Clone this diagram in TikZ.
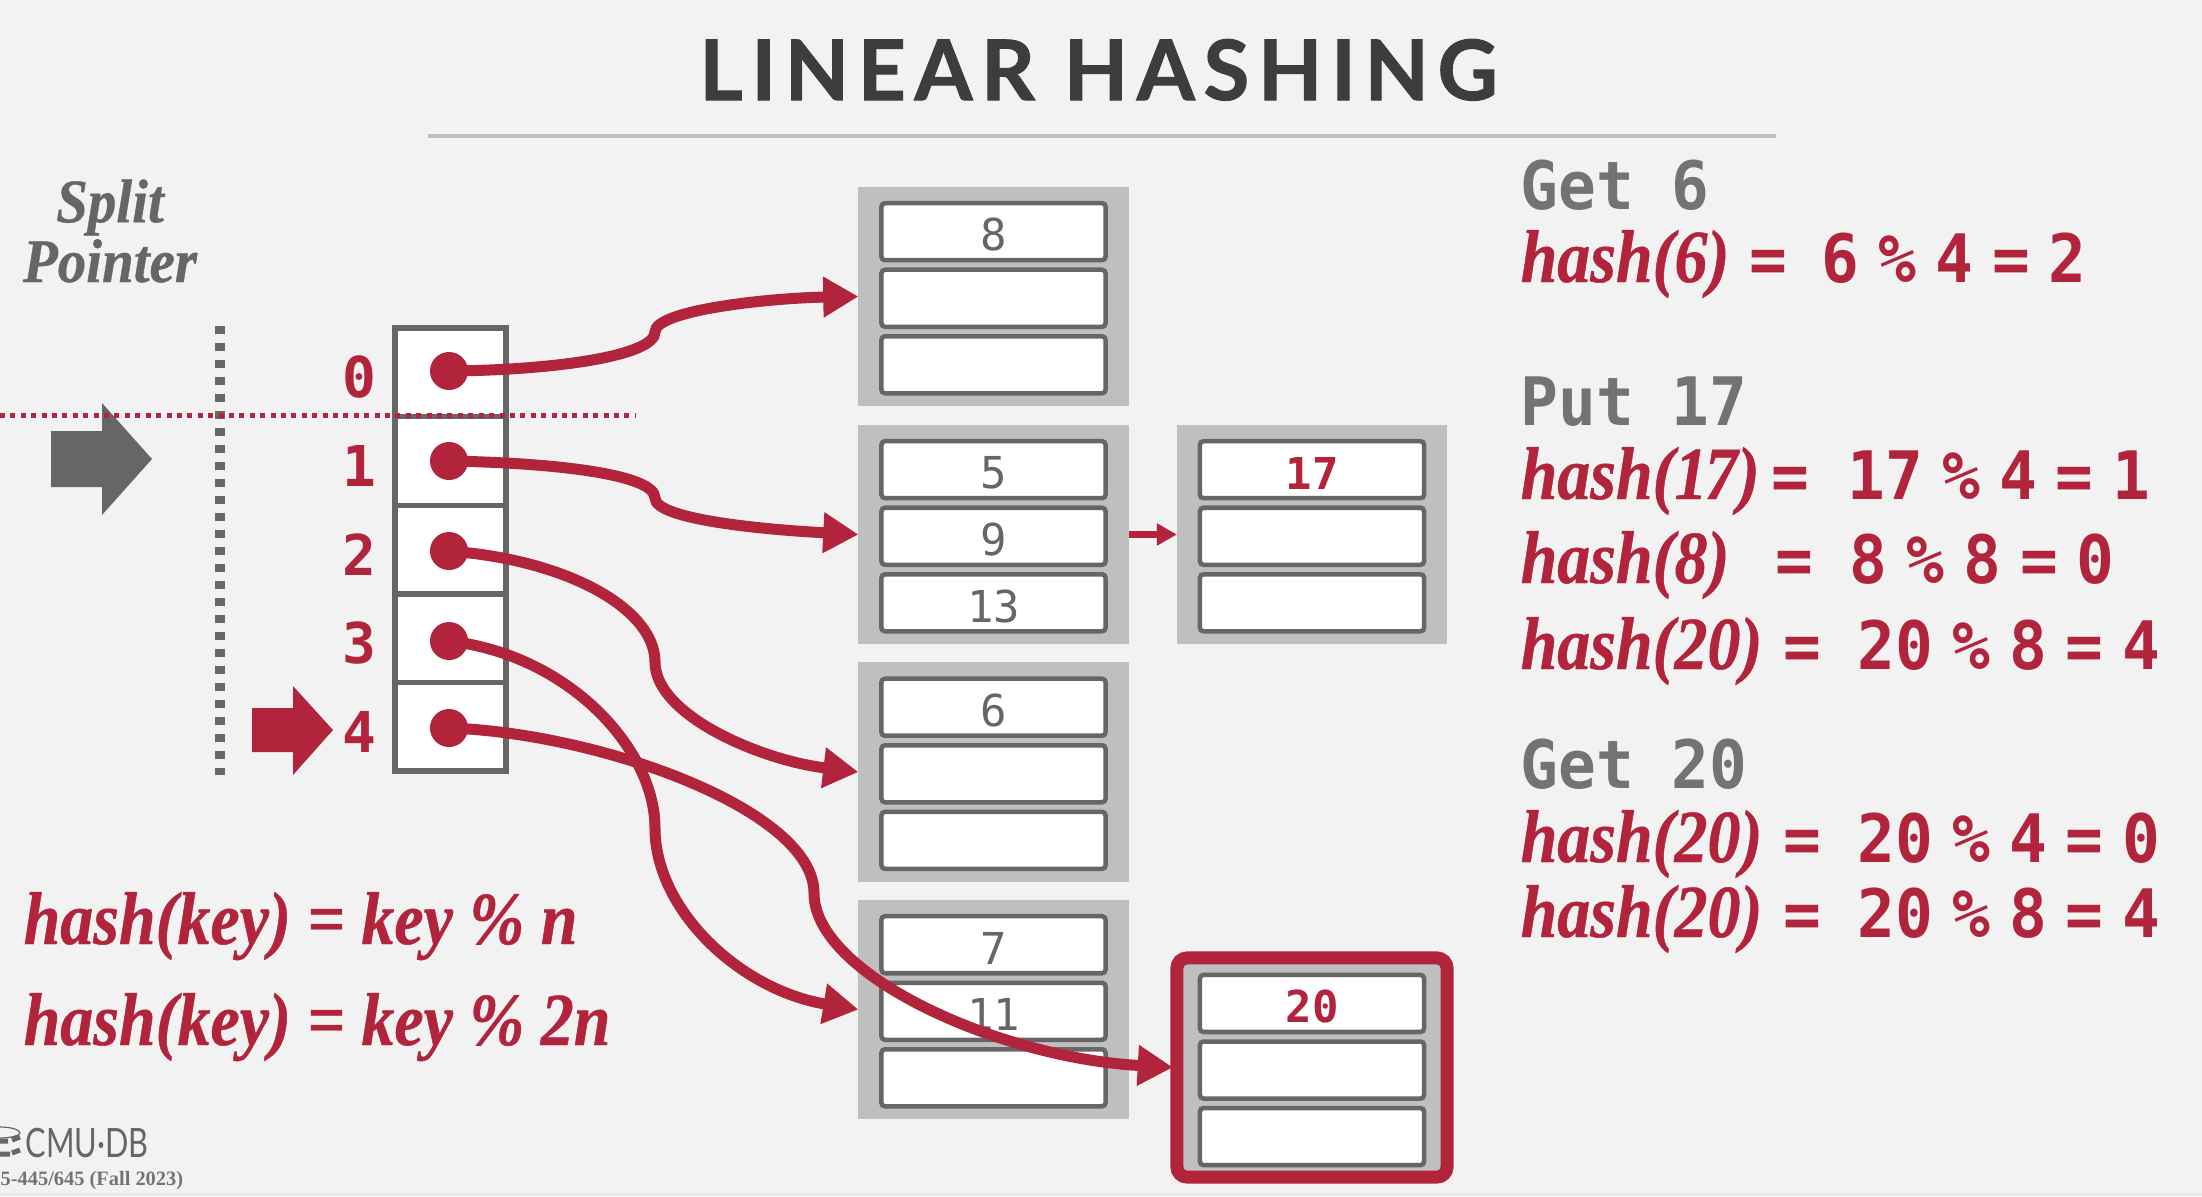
\documentclass[tikz,border=0pt]{standalone}
\usepackage{fontspec}
\usepackage{xcolor}
\usepackage{tikz}
\usetikzlibrary{arrows.meta,positioning}
\newfontfamily\titlefamily{Lato}[LetterSpace=10.5,FakeBold=1.2]
\newfontfamily\logofamily{Lato}[FakeStretch=0.76]
\newfontfamily\hashfamily{Liberation Serif}[FakeStretch=0.88,FakeBold=0.6]
\newfontfamily\splitfamily{Liberation Serif}[FakeStretch=0.92,FakeBold=0.6]
\newfontfamily\footfamily{Liberation Serif}
\newfontfamily\opfamily{DejaVu Sans Mono}[FakeStretch=0.94]
\newfontfamily\keyfamily{DejaVu Sans Mono}
\definecolor{dbred}{HTML}{B1243C}
\definecolor{slotgray}{HTML}{666666}
\definecolor{bucketgray}{HTML}{BFBFBF}
\definecolor{opgray}{HTML}{737373}
\definecolor{pagebg}{HTML}{F2F2F2}
\newlength{\pxunit}
\setlength{\pxunit}{0.01cm}
\newcommand{\hashtype}{\hashfamily\bfseries\itshape\fontsize{21.3}{25}\selectfont}
\newcommand{\calctype}{\opfamily\bfseries\fontsize{19}{23}\selectfont\spaceskip=0.19cm\relax}
\newcommand{\hashline}[4]{\makebox[#2\pxunit][l]{\hashtype hash(#1)}\makebox[#3\pxunit][l]{=}#4}

\begin{document}
\begin{tikzpicture}[
  x=0.01cm, y=-0.01cm,
  cell/.style   = {rectangle, draw=slotgray, fill=white, line width=0.055cm,
                   minimum width=1.11cm, minimum height=0.886cm,
                   inner sep=0pt, outer sep=0pt},
  dot/.style    = {circle, fill=dbred, minimum size=0.38cm, inner sep=0pt},
  idxlabel/.style = {font=\keyfamily\bfseries\fontsize{16}{18}\selectfont,
                   text=dbred, inner sep=0pt, yshift=-0.05cm},
  bucket/.style = {rectangle, fill=bucketgray, minimum width=2.70cm,
                   minimum height=2.19cm, inner sep=0pt, outer sep=0pt},
  slot/.style   = {rectangle, rounded corners=1pt, draw=slotgray, fill=white,
                   line width=0.045cm, minimum width=2.24cm, minimum height=0.57cm,
                   inner sep=0pt, outer sep=0pt, text height=0.39cm, text=slotgray,
                   font=\keyfamily\fontsize{12.5}{14}\selectfont},
  newslot/.style = {slot, text=dbred,
                   font=\keyfamily\bfseries\fontsize{12.5}{14}\selectfont},
  curve/.style  = {-{Triangle[length=10pt,width=11pt]}, draw=dbred, line width=0.11cm},
  smallarrow/.style = {-{Triangle[length=5.7pt,width=6pt]}, draw=dbred, line width=0.07cm},
  hashtext/.style = {font=\hashtype, text=dbred, inner sep=0pt, anchor=base west},
  calctext/.style = {font=\calctype, text=dbred, inner sep=0pt, anchor=base west},
  optext/.style = {font=\opfamily\bfseries\fontsize{19}{23}\selectfont,
                   text=opgray, inner sep=0pt, anchor=base west}
]

%% ─── Page and title ─────────────────────────────────────────────
\path[use as bounding box, fill=pagebg] (0,0) rectangle (2202,1196);
\fill[black!9] (0,1193) rectangle (2202,1196);

\node[font=\titlefamily\bfseries\fontsize{23.7}{28}\selectfont, text=black!76,
      inner sep=0pt, anchor=base] (title) at (1098.5,100) {LINEAR HASHING};
\coordinate (ruleL) at (428,136);
\coordinate (ruleR) at (1776,136);
\draw[bucketgray, line width=0.047cm] (ruleL) -- (ruleR);

%% ─── Split pointer ──────────────────────────────────────────────
\node[font=\splitfamily\bfseries\itshape\fontsize{17.6}{17}\selectfont, text=slotgray,
      align=center, inner sep=0pt, anchor=base] (splitlabel) at (110,282)
  {Split\\Pointer};
\fill[slotgray] (51,431) -- (102,431) -- (102,403) -- (152,459) -- (102,515)
  -- (102,487) -- (51,487) -- cycle;
\fill[dbred] (252,708) -- (293,708) -- (293,686) -- (333,730) -- (293,775)
  -- (293,752) -- (252,752) -- cycle;
\coordinate (splitT) at (220,326);
\coordinate (splitB) at (220,775);
\draw[slotgray, line width=0.09cm, dash pattern=on 0.08cm off 0.09cm] (splitT) -- (splitB);

%% ─── Directory ──────────────────────────────────────────────────
\node[cell] (cell0) at (450.5,372.3) {};
\node[cell, below=0pt of cell0] (cell1) {};
\node[cell, below=0pt of cell1] (cell2) {};
\node[cell, below=0pt of cell2] (cell3) {};
\node[cell, below=0pt of cell3] (cell4) {};

\node[idxlabel, left=0.18cm of cell0] (idx0) {0};
\node[idxlabel, left=0.18cm of cell1] (idx1) {1};
\node[idxlabel, left=0.18cm of cell2] (idx2) {2};
\node[idxlabel, left=0.18cm of cell3] (idx3) {3};
\node[idxlabel, left=0.18cm of cell4] (idx4) {4};

\coordinate (lineL) at (0,415);
\coordinate (lineR) at (635,415);
\draw[dbred, line width=0.05cm, dash pattern=on 0.05cm off 0.054cm] (lineL) -- (lineR);

%% ─── Buckets ────────────────────────────────────────────────────
\node[bucket] (bucketA) at (993.5,296.5) {};
\node[slot, below=0.1625cm of bucketA.north] (slotA1) {8};
\node[slot, below=0.095cm of slotA1] (slotA2) {};
\node[slot, below=0.095cm of slotA2] (slotA3) {};

\node[bucket] (bucketB) at (993.5,534.5) {};
\node[slot, below=0.1625cm of bucketB.north] (slotB1) {5};
\node[slot, below=0.095cm of slotB1] (slotB2) {9};
\node[slot, below=0.095cm of slotB2] (slotB3) {13};

\node[bucket] (overflowB) at (1312,534.5) {};
\node[newslot, below=0.1625cm of overflowB.north] (slotO1) {17};
\node[slot, below=0.095cm of slotO1] (slotO2) {};
\node[slot, below=0.095cm of slotO2] (slotO3) {};

\node[bucket] (bucketC) at (993.5,772) {};
\node[slot, below=0.1625cm of bucketC.north] (slotC1) {6};
\node[slot, below=0.095cm of slotC1] (slotC2) {};
\node[slot, below=0.095cm of slotC2] (slotC3) {};

\node[bucket] (bucketD) at (993.5,1009.5) {};
\node[slot, below=0.1625cm of bucketD.north] (slotD1) {7};
\node[slot, below=0.095cm of slotD1] (slotD2) {11};
\node[slot, below=0.095cm of slotD2] (slotD3) {};

\node[bucket, draw=dbred, line width=0.13cm, rounded corners=2.9pt] (bucketE) at (1312,1067.5) {};
\node[newslot, below=0.17cm of bucketE.north] (slotE1) {20};
\node[slot, below=0.095cm of slotE1] (slotE2) {};
\node[slot, below=0.095cm of slotE2] (slotE3) {};

%% ─── Pointers from directory to buckets ─────────────────────────
\node[dot] (dot0) at (449,371) {};
\node[dot] (dot1) at (449,461) {};
\node[dot] (dot2) at (449,551) {};
\node[dot] (dot3) at (449,641) {};
\node[dot] (dot4) at (449,728) {};

\draw[curve] (dot0.center) .. controls (560,370) and (655,355) .. (655,332)
  .. controls (655,310) and (770,298) .. (bucketA.west);
\draw[curve] (dot1.center) .. controls (560,463) and (655,475) .. (655,498)
  .. controls (655,520) and (770,530) .. (bucketB.west);
\draw[curve] (dot2.center) .. controls (570,560) and (655,610) .. (655,662)
  .. controls (655,715) and (760,760) .. (bucketC.west);
\draw[curve] (dot3.center) .. controls (570,655) and (655,750) .. (655,828)
  .. controls (655,910) and (740,990) .. (bucketD.west);
\draw[curve, shorten >=0.04cm] (dot4.center) .. controls (600,733) and (814,810) .. (814,893)
  .. controls (814,975) and (1000,1058) .. (bucketE.west);
\draw[smallarrow] (bucketB.east) -- (overflowB.west);

%% ─── Hash functions ─────────────────────────────────────────────
\node[hashtext] (formulaA) at (23,944) {hash(key) = key \% n};
\node[hashtext] (formulaB) at (23,1045) {hash(key) = key \% 2n};

%% ─── Operations ─────────────────────────────────────────────────
\node[optext] (opGet6) at (1520,209) {Get 6};
\node[calctext] (calcA) at (1520,282) {\hashline{6}{229}{72}{6 \% 4 = 2}};

\node[optext] (opPut17) at (1520,425) {Put 17};
\node[calctext] (calcB) at (1520,499) {\hashline{1\kern-0.8pt 7}{251}{76}{17 \% 4 = 1}};
\node[calctext] (calcC) at (1520,583) {\hashline{8}{255}{74}{8 \% 8 = 0}};
\node[calctext] (calcD) at (1520,669) {\hashline{20}{263}{74}{20 \% 8 = 4}};

\node[optext] (opGet20) at (1520,788) {Get 20};
\node[calctext] (calcE) at (1520,862) {\hashline{20}{263}{74}{20 \% 4 = 0}};
\node[calctext] (calcF) at (1520,937) {\hashline{20}{263}{74}{20 \% 8 = 4}};

%% ─── Footer ─────────────────────────────────────────────────────
\node[font=\logofamily\fontsize{11.5}{13}\selectfont, text=slotgray, inner sep=0pt,
      anchor=base west] (logo) at (25,1157) {CMU·DB};
\node[font=\footfamily\bfseries\fontsize{5.8}{7}\selectfont, text=opgray, inner sep=0pt,
      anchor=base west] (course) at (0,1185) {5-445/645 (Fall 2023)};
\draw[slotgray, line width=0.012cm] (0,1127) .. controls (12,1127) and (20,1130) .. (20,1133)
  .. controls (20,1135) and (12,1138) .. (0,1138);
\draw[slotgray, line width=0.05cm] (0,1141) -- (8,1141) (12,1140) -- (20,1137);
\draw[slotgray, line width=0.05cm] (0,1154) -- (10,1154) (12,1153) -- (20,1150);

\end{tikzpicture}
\end{document}
